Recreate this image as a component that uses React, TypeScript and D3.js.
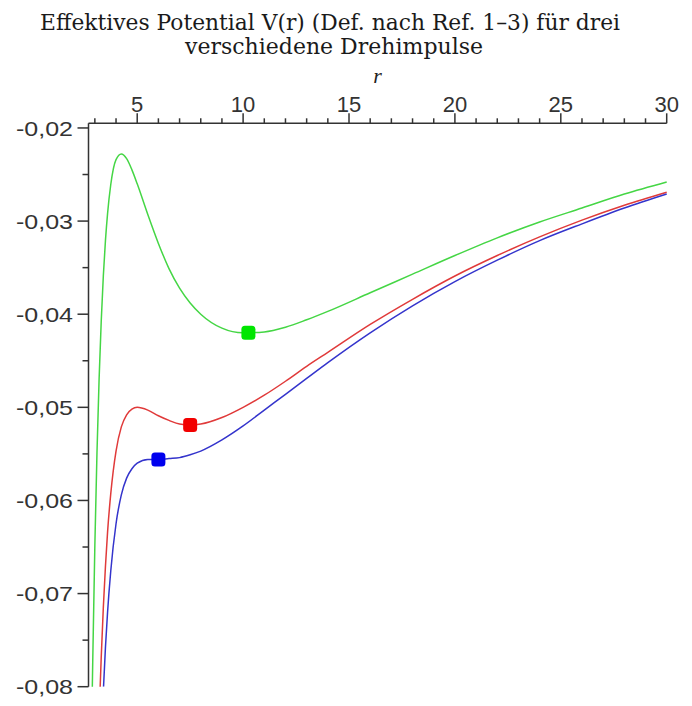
import React from 'react';
import * as d3 from 'd3';

// values (r, V)
const greenCurve = [
  [2.88, -0.0801], [2.9, -0.0773], [3.0, -0.0648], [3.1, -0.0549], [3.2, -0.047],
  [3.3, -0.0408], [3.4, -0.0359], [3.5, -0.0321], [3.6, -0.0292], [3.75, -0.0261],
  [4.0, -0.0234], [4.25, -0.0228], [4.5, -0.0233], [4.75, -0.0245], [5.0, -0.026],
  [5.5, -0.0293], [6, -0.0324], [6.5, -0.0351], [7, -0.0372], [7.5, -0.0388],
  [8, -0.04], [9, -0.0415], [10, -0.042], [11, -0.0419], [12, -0.0414],
  [13, -0.0406], [14, -0.0397], [16, -0.0377], [18, -0.0357], [20, -0.0337],
  [22, -0.0318], [24, -0.0301], [26, -0.0286], [28, -0.0271], [30, -0.0258],
];
const redCurve = [
  [3.25, -0.0801], [3.3, -0.0769], [3.4, -0.0715], [3.5, -0.0671], [3.6, -0.0634],
  [3.75, -0.0593], [4.0, -0.0547], [4.25, -0.0521], [4.5, -0.0508], [4.75, -0.0502],
  [5.0, -0.05], [5.5, -0.0503], [6, -0.0509], [6.5, -0.0514], [7, -0.0518],
  [7.5, -0.0519], [8, -0.0518], [9, -0.0511], [10, -0.05], [11, -0.0487],
  [12, -0.0472], [13, -0.0456], [14, -0.0441], [16, -0.0411], [18, -0.0384],
  [20, -0.0359], [22, -0.0337], [24, -0.0317], [26, -0.0299], [28, -0.0283],
  [30, -0.0269],
];
const blueCurve = [
  [3.41, -0.08], [3.5, -0.0758], [3.6, -0.072], [3.75, -0.0676], [4.0, -0.0625],
  [4.25, -0.0594], [4.5, -0.0576], [4.75, -0.0566], [5.0, -0.056], [5.5, -0.0556],
  [6, -0.0556], [6.5, -0.0555], [7, -0.0554], [7.5, -0.0551], [8, -0.0547],
  [9, -0.0535], [10, -0.052], [11, -0.0503], [12, -0.0486], [13, -0.0469],
  [14, -0.0452], [16, -0.042], [18, -0.0391], [20, -0.0365], [22, -0.0342],
  [24, -0.0321], [26, -0.0303], [28, -0.0286], [30, -0.0271],
];

// minima (circular orbits)
const markerR = [6, 7.5, 10.25];
const markerV = [-0.0556, -0.0519, -0.042];

const xTicks = [5, 10, 15, 20, 25, 30];
const yTicks = [-0.02, -0.03, -0.04, -0.05, -0.06, -0.07, -0.08];
const yTickLabels = ['-0,02', '-0,03', '-0,04', '-0,05', '-0,06', '-0,07', '-0,08'];

const series = [
  { data: greenCurve, line: '#45d645' },
  { data: redCurve, line: '#e03a3a' },
  { data: blueCurve, line: '#3434cc' },
];
const markerColors = ['#0000ee', '#f20000', '#00e600'];

export default () => {
  const width = 692;
  const height = 706;

  const xScale = d3.scaleLinear().domain([2.7, 30]).range([88.5, 666.7]);
  const yScale = d3.scaleLinear().domain([-0.08, -0.0195]).range([686.7, 123.3]);
  const [x0, x1] = xScale.range();
  const [yBottom, yTop] = yScale.range();

  const line = d3.line()
    .x((d) => xScale(d[0]))
    .y((d) => yScale(d[1]))
    .curve(d3.curveMonotoneX);

  const minorX = d3.range(3, 30, 1).filter((v) => v % 5 !== 0);
  const minorY = d3.range(-0.075, -0.02, 0.01);
  const axisColor = '#333';

  return (
    <svg width={width} height={height} style={{ position: 'absolute', left: 0, top: 0, background: '#fff' }}>
      <defs>
        <clipPath id="plot-area">
          <rect x={x0} y={yTop} width={x1 - x0 + 1} height={yBottom - yTop} />
        </clipPath>
      </defs>

      <g fontFamily="'DejaVu Serif', serif" fontSize={22} fill="#1a1a1a" textAnchor="middle">
        <text x={330} y={30} textLength={580} lengthAdjust="spacingAndGlyphs">
          Effektives Potential V(r) (Def. nach Ref. 1–3) für drei
        </text>
        <text x={334} y={54} textLength={298} lengthAdjust="spacingAndGlyphs">
          verschiedene Drehimpulse
        </text>
      </g>
      <text x={(x0 + x1) / 2} y={83} fontFamily="'Liberation Serif', serif" fontStyle="italic" fontSize={22} textAnchor="middle" fill="#222">r</text>

      {/* top axis */}
      <g stroke={axisColor} strokeWidth={1.5}>
        <line x1={x0} x2={x1} y1={yTop} y2={yTop} />
        {xTicks.map((t) => (
          <line key={`xt${t}`} x1={xScale(t)} x2={xScale(t)} y1={yTop} y2={yTop - 10} />
        ))}
        {minorX.map((t) => (
          <line key={`xm${t}`} x1={xScale(t)} x2={xScale(t)} y1={yTop} y2={yTop - 5} />
        ))}
      </g>
      <g fontFamily="'Liberation Sans', Arial, sans-serif" fontSize={22} fill="#333" textAnchor="middle">
        {xTicks.map((t) => (
          <text key={`xl${t}`} x={xScale(t)} y={112}>{t}</text>
        ))}
      </g>

      {/* left axis */}
      <g stroke={axisColor} strokeWidth={1.5}>
        <line x1={x0} x2={x0} y1={yTop} y2={yBottom} />
        {yTicks.map((t) => (
          <line key={`yt${t}`} x1={x0} x2={x0 - 11} y1={yScale(t)} y2={yScale(t)} />
        ))}
        {minorY.map((t) => (
          <line key={`ym${t}`} x1={x0} x2={x0 - 6} y1={yScale(t)} y2={yScale(t)} />
        ))}
      </g>
      <g fontFamily="'Liberation Sans', Arial, sans-serif" fontSize={21} fill="#333" textAnchor="end">
        {yTicks.map((t, i) => (
          <text
            key={`yl${t}`}
            x={73}
            y={yScale(t)}
            dy="0.36em"
            textLength={57}
            lengthAdjust="spacingAndGlyphs"
          >
            {yTickLabels[i]}
          </text>
        ))}
      </g>

      <g clipPath="url(#plot-area)" fill="none" strokeWidth={1.5}>
        {series.map((s) => (
          <path key={s.line} d={line(s.data)} stroke={s.line} />
        ))}
      </g>

      {markerR.map((r, i) => (
        <rect
          key={`m${r}`}
          x={xScale(r) - 7}
          y={yScale(markerV[i]) - 7}
          width={14}
          height={14}
          rx={3.5}
          fill={markerColors[i]}
        />
      ))}
    </svg>
  );
};
